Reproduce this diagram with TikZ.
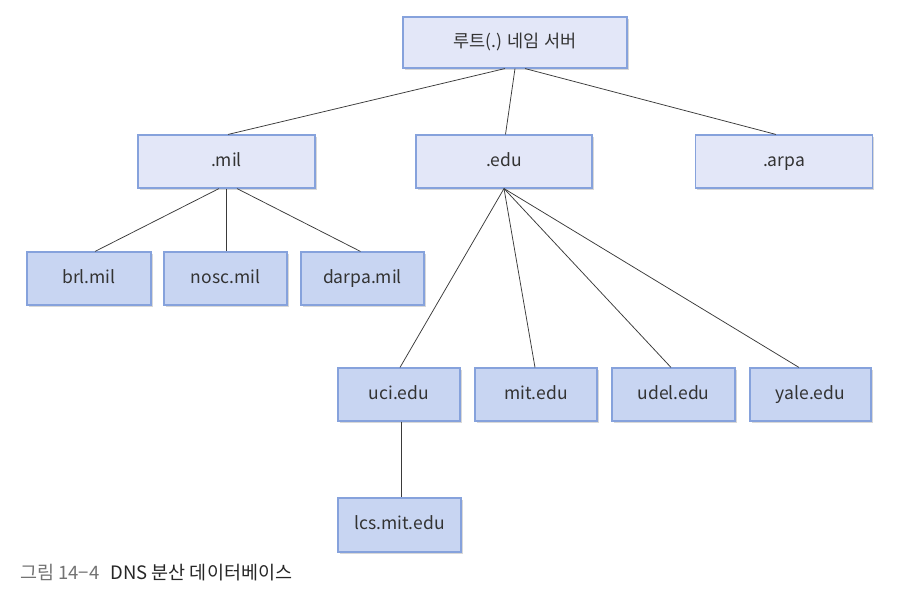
\documentclass[tikz,border=0pt]{standalone}
\usepackage{fontspec}
\setmainfont{Noto Sans CJK KR}
\usetikzlibrary{shadows}
\definecolor{fillA}{HTML}{E3E7F8}
\definecolor{fillB}{HTML}{C8D5F2}
\definecolor{edgeC}{HTML}{86A2DC}
\definecolor{txtC}{HTML}{333333}
\definecolor{lineC}{HTML}{3A3A3A}
\tikzset{
  boxbase/.style={rectangle, draw=edgeC, line width=1.1pt, text=txtC, inner sep=0pt,
    font=\fontsize{17.5}{20}\selectfont, text height=12.5pt, text depth=3pt,
    drop shadow={shadow xshift=1.8pt, shadow yshift=-1.8pt, fill=black!30, opacity=.5}},
  lvlA/.style={boxbase, fill=fillA},
  lvlB/.style={boxbase, fill=fillB},
  conn/.style={draw=lineC, line width=0.75pt}
}
\begin{document}
\begin{tikzpicture}[x=1pt,y=-1pt]
\useasboundingbox[fill=white] (0,0) rectangle (898,606);
% level 0
\node[lvlA, minimum width=224pt, minimum height=51pt] (root) at (515,42.5) {루트(.) 네임 서버};
% level 1
\node[lvlA, minimum width=177pt, minimum height=53pt] (mil) at (226.5,161.5) {.mil};
\node[lvlA, minimum width=176pt, minimum height=53pt] (edu) at (504,161.5) {.edu};
\node[lvlA, minimum width=177pt, minimum height=53pt] (arpa) at (784,161.5) {.arpa};
% level 2 (mil)
\node[lvlB, minimum width=124pt, minimum height=53pt] (brl) at (89,278.5) {brl.mil};
\node[lvlB, minimum width=123pt, minimum height=53pt] (nosc) at (225.5,278.5) {nosc.mil};
\node[lvlB, minimum width=123pt, minimum height=53pt] (darpa) at (362.5,278.5) {darpa.mil};
% level 2 (edu)
\node[lvlB, minimum width=122pt, minimum height=53pt] (uci) at (399,394.5) {uci.edu};
\node[lvlB, minimum width=122pt, minimum height=53pt] (mit) at (536,394.5) {mit.edu};
\node[lvlB, minimum width=123pt, minimum height=53pt] (udel) at (673.5,394.5) {udel.edu};
\node[lvlB, minimum width=121pt, minimum height=53pt] (yale) at (810.5,394.5) {yale.edu};
% level 3
\node[lvlB, minimum width=123pt, minimum height=54pt] (lcs) at (399.5,525) {lcs.mit.edu};
% connectors
\draw[conn] ([xshift=-10pt]root.south) -- ([xshift=1.5pt]mil.north);
\draw[conn] (root.south) -- ([xshift=1.5pt]edu.north);
\draw[conn] ([xshift=10pt]root.south) -- ([xshift=-8pt]arpa.north);
\draw[conn] ([xshift=-7.5pt]mil.south) -- ([xshift=6pt]brl.north);
\draw[conn] (mil.south) -- ([xshift=1pt]nosc.north);
\draw[conn] ([xshift=10.5pt]mil.south) -- ([xshift=-2pt]darpa.north);
\draw[conn] (edu.south) -- ([xshift=1pt]uci.north);
\draw[conn] (edu.south) -- ([xshift=-1pt]mit.north);
\draw[conn] (edu.south) -- ([xshift=-2.5pt]udel.north);
\draw[conn] (edu.south) -- ([xshift=-11.5pt]yale.north);
\draw[conn] ([xshift=2pt]uci.south) -- ([xshift=1.5pt]lcs.north);
% caption
\node[anchor=base west, inner sep=0pt, font=\fontsize{18.5}{21}\selectfont] (cap) at (20,579)
  {\textcolor{black!55}{그림 14−4}\hspace{0.6em}\textcolor{black!85}{DNS 분산 데이터베이스}};
\end{tikzpicture}
\end{document}
